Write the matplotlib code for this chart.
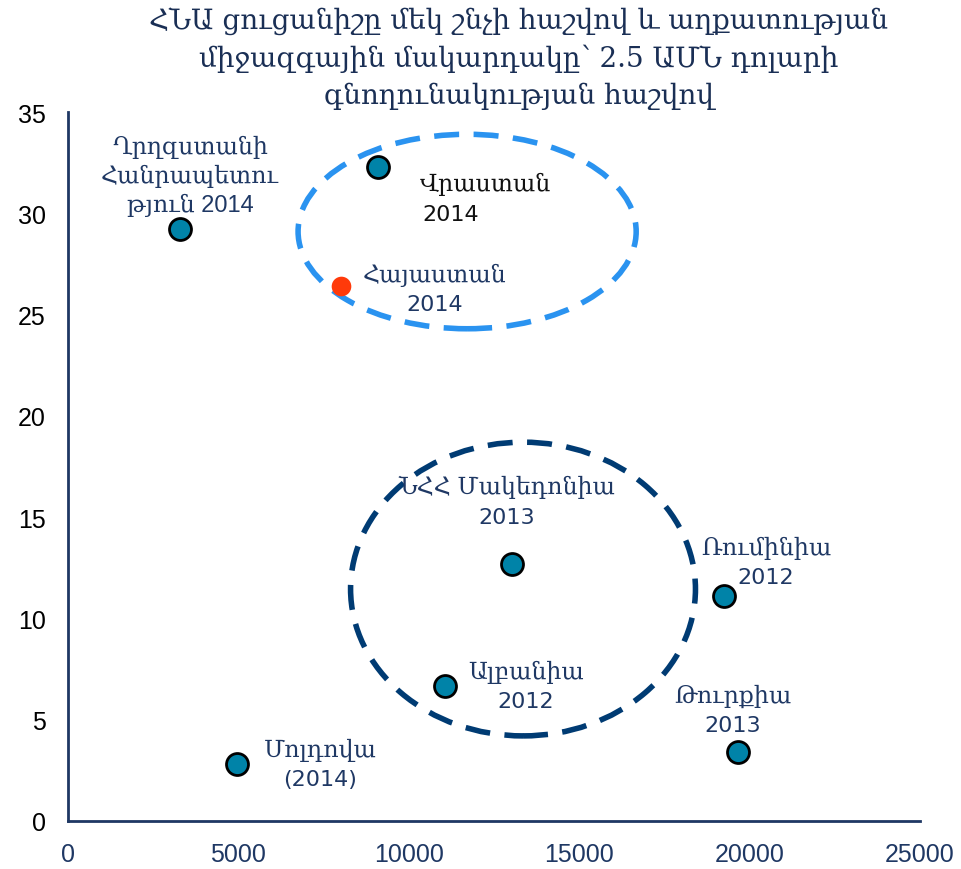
import matplotlib.pyplot as plt
from matplotlib.patches import Ellipse

# GDP per capita (x) and poverty rate at $2.5 (y)
names = ["Ղրղզստանի\nՀանրապետու\nթյուն 2014", "Վրաստան", "Հայաստան",
         "ՆՀՀ Մակեդոնիա", "Ռումինիա", "Ալբանիա", "Թուրքիա", "Մոլդովա"]
years = ["", "2014", "2014", "2013", "2012", "2012", "2013", "(2014)"]
gdp = [3290, 9100, 8010, 13030, 19250, 11060, 19660, 4960]
poverty = [29.2, 32.3, 26.4, 12.7, 11.1, 6.65, 3.4, 2.8]
highlight = [False, False, True, False, False, False, False, False]

# label block centre offsets from the point, in pixels (right, down)
label_offsets = [(10, -54), (42, 32), (94, 3), (-5, -62), (42, -34), (81, 0), (-5, -42), (83, 0)]
label_ha = ["center", "left", "center", "center", "center", "center", "center", "center"]
label_colors = ["#1F3864", "#111111", "#1F3864", "#1F3864", "#1F3864", "#1F3864", "#1F3864", "#1F3864"]

navy = "#1F3864"
mixed = ["Liberation Sans", "DejaVu Serif"]
plt.rcParams["font.family"] = ["Liberation Sans", "DejaVu Serif"]

fig = plt.figure(figsize=(9.61, 8.70), dpi=100)
ax = fig.add_axes([0.0708, 0.0552, 0.8866, 0.8149])

for x, y, hl in zip(gdp, poverty, highlight):
    if hl:
        ax.scatter(x, y, s=200, color="#FF3A0A", zorder=3, linewidths=0)
    else:
        ax.scatter(x, y, s=250, color="#0083A8", edgecolor="black", linewidths=2, zorder=3)

px = 0.72  # points per pixel
for x, y, name, yr, (dx, dy), ha, c in zip(gdp, poverty, names, years, label_offsets, label_ha, label_colors):
    if yr:
        ax.annotate(name, (x, y), xytext=(dx * px, (-dy + 15) * px), textcoords="offset points",
                    ha=ha, va="center", fontsize=17, color=c, family=mixed)
        ax.annotate(yr, (x, y), xytext=((dx + (2 if ha == "left" else 0)) * px, (-dy - 15) * px),
                    textcoords="offset points", ha=ha, va="center", fontsize=16, color=c,
                    family="DejaVu Sans")
    else:
        ax.annotate(name, (x, y), xytext=(dx * px, -dy * px), textcoords="offset points",
                    ha=ha, va="center", fontsize=17, color=c, family=mixed, linespacing=1.3)

ax.add_patch(Ellipse((11710, 29.1), 9920, 9.6, fill=False, edgecolor="#2A93F0",
                     linewidth=4, linestyle=(0, (4.5, 2.6)), zorder=2))
ax.add_patch(Ellipse((13350, 11.45), 10120, 14.5, fill=False, edgecolor="#003B73",
                     linewidth=4, linestyle=(0, (4.5, 2.6)), zorder=2))

ax.set_xlim(0, 25000)
ax.set_ylim(0, 35)
ax.set_xticks(range(0, 25001, 5000))
ax.set_yticks(range(0, 36, 5))
for s in ["top", "right"]:
    ax.spines[s].set_visible(False)
for s in ["left", "bottom"]:
    ax.spines[s].set_color(navy)
    ax.spines[s].set_linewidth(2)
ax.tick_params(axis="x", length=0, pad=15, labelsize=18, labelcolor=navy)
ax.tick_params(axis="y", length=0, pad=16, labelsize=18, labelcolor="black")

fig.text(0.54, 0.933, "ՀՆԱ ցուցանիշը մեկ շնչի հաշվով և աղքատության\nմիջազգային մակարդակը՝ 2.5 ԱՄՆ դոլարի\nգնողունակության հաշվով",
         ha="center", va="center", fontsize=20, color="#1A2F55", family=["DejaVu Serif"], linespacing=1.45)

fig.savefig("out.png", dpi=100)
